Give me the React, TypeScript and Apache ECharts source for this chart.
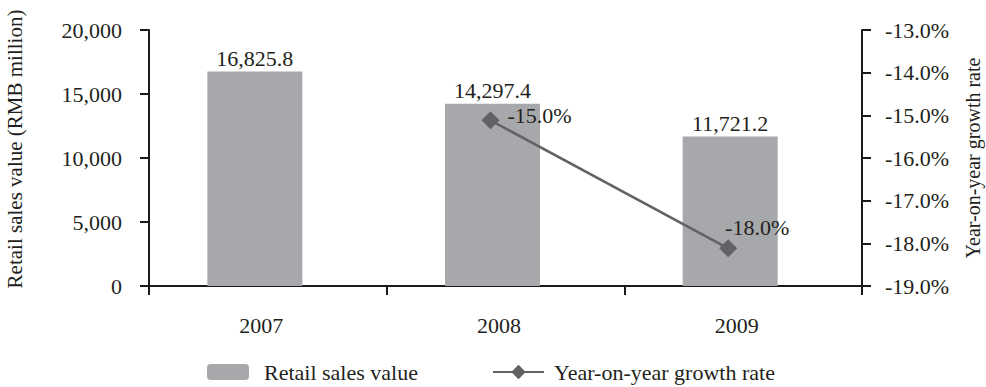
import React, { useEffect, useRef } from "react";
import * as echarts from "echarts";

const years = ["2007", "2008", "2009"];
const salesValues = [16825.8, 14297.4, 11721.2];
const growthValues = [null, -15.0, -18.0];
const leftTicks = [0, 5000, 10000, 15000, 20000];
const rightTicks = [-19, -18, -17, -16, -15, -14, -13];

const FONT = "'Liberation Serif', 'Times New Roman', serif";
const BAR_COLOR = "#a7a8ab";
const LINE_COLOR = "#626264";
const TXT = "#231f20";
const AX = "#1a1a1a";

export default function App() {
  const ref = useRef<HTMLDivElement>(null);
  useEffect(() => {
    if (!ref.current) return;
    const chart = echarts.init(ref.current, null, { renderer: "svg" });
    const fmtNum = (v: number) =>
      v.toLocaleString("en-US", { minimumFractionDigits: 1, maximumFractionDigits: 1 });
    const hiddenY = (min: number, max: number, gridIndex: number) => ({
      type: "value",
      gridIndex,
      min,
      max,
      show: false,
      splitLine: { show: false },
    });
    chart.setOption({
      animation: false,
      textStyle: { fontFamily: FONT, color: TXT },
      grid: [
        { left: 149, right: 124, top: 30, bottom: 101 },
        { left: 136, right: 137, top: 31, bottom: 101 },
        { left: 134, right: 139, top: 35, bottom: 96 },
      ],
      legend: [
        {
          data: ["Retail sales value"],
          left: 207,
          top: 361,
          padding: 0,
          itemWidth: 42,
          itemHeight: 16,
          textStyle: {
            fontFamily: FONT,
            fontSize: 22,
            lineHeight: 22,
            color: TXT,
            padding: [0, 0, 0, 10],
          },
        },
        {
          data: ["Year-on-year growth rate"],
          left: 492,
          top: 361,
          padding: 0,
          itemWidth: 51,
          itemHeight: 18,
          textStyle: {
            fontFamily: FONT,
            fontSize: 22,
            lineHeight: 22,
            color: TXT,
            padding: [0, 0, 0, 5],
          },
        },
      ],
      xAxis: [
        {
          type: "category",
          gridIndex: 0,
          data: years,
          axisLine: { lineStyle: { color: AX, width: 2 } },
          axisTick: { show: true, length: 9, lineStyle: { color: AX, width: 2 } },
          axisLabel: {
            fontFamily: FONT,
            fontSize: 22,
            color: TXT,
            margin: 28,
            padding: [0, 13, 0, 0],
          },
        },
        { type: "category", gridIndex: 1, data: years, show: false },
        { type: "category", gridIndex: 2, data: years, show: false },
      ],
      yAxis: [
        {
          type: "value",
          gridIndex: 0,
          min: leftTicks[0],
          max: leftTicks[leftTicks.length - 1],
          interval: leftTicks[1] - leftTicks[0],
          splitLine: { show: false },
          axisLine: { show: true, lineStyle: { color: AX, width: 2 } },
          axisTick: { show: true, length: 9, lineStyle: { color: AX, width: 2 } },
          axisLabel: {
            fontFamily: FONT,
            fontSize: 22,
            color: TXT,
            margin: 27,
            formatter: (v: number) => v.toLocaleString("en-US"),
          },
        },
        {
          type: "value",
          gridIndex: 0,
          position: "right",
          min: rightTicks[0],
          max: rightTicks[rightTicks.length - 1],
          interval: 1,
          splitLine: { show: false },
          axisLine: { show: true, lineStyle: { color: AX, width: 2 } },
          axisTick: { show: true, length: 9, lineStyle: { color: AX, width: 2 } },
          axisLabel: {
            fontFamily: FONT,
            fontSize: 22,
            color: TXT,
            margin: 23,
            formatter: (v: number) => v.toFixed(1) + "%",
          },
        },
        hiddenY(leftTicks[0], leftTicks[leftTicks.length - 1], 1),
        hiddenY(rightTicks[0], rightTicks[rightTicks.length - 1], 2),
      ],
      graphic: [
        {
          type: "text",
          x: 15,
          y: 149,
          rotation: Math.PI / 2,
          style: {
            text: "Retail sales value (RMB million)",
            fontFamily: FONT,
            fontSize: 21,
            fill: TXT,
            align: "center",
            verticalAlign: "middle",
          },
        },
        {
          type: "text",
          x: 973,
          y: 158,
          rotation: Math.PI / 2,
          style: {
            text: "Year-on-year growth rate",
            fontFamily: FONT,
            fontSize: 20,
            fill: TXT,
            align: "center",
            verticalAlign: "middle",
          },
        },
      ],
      series: [
        {
          name: "Retail sales value",
          type: "bar",
          xAxisIndex: 1,
          yAxisIndex: 2,
          data: salesValues,
          barWidth: 95,
          itemStyle: { color: BAR_COLOR },
          label: {
            show: true,
            position: "top",
            distance: 2,
            fontFamily: FONT,
            fontSize: 22,
            color: TXT,
            formatter: (p: any) => fmtNum(p.value),
          },
        },
        {
          name: "Year-on-year growth rate",
          type: "line",
          xAxisIndex: 2,
          yAxisIndex: 3,
          data: growthValues.map((v, i) => ({
            value: v,
            label:
              i === 1
                ? { position: "right", distance: 8, offset: [0, -5] }
                : { position: "top", distance: 1, offset: [29, 0] },
          })),
          symbol: "diamond",
          symbolSize: 18,
          connectNulls: false,
          lineStyle: { color: LINE_COLOR, width: 2.5 },
          itemStyle: { color: LINE_COLOR },
          label: {
            show: true,
            fontFamily: FONT,
            fontSize: 22,
            color: TXT,
            formatter: (p: any) => Number(p.value).toFixed(1) + "%",
          },
        },
      ],
    });
    return () => chart.dispose();
  }, []);
  return <div ref={ref} style={{ width: 986, height: 387, position: "absolute", left: 0, top: 0 }} />;
}
